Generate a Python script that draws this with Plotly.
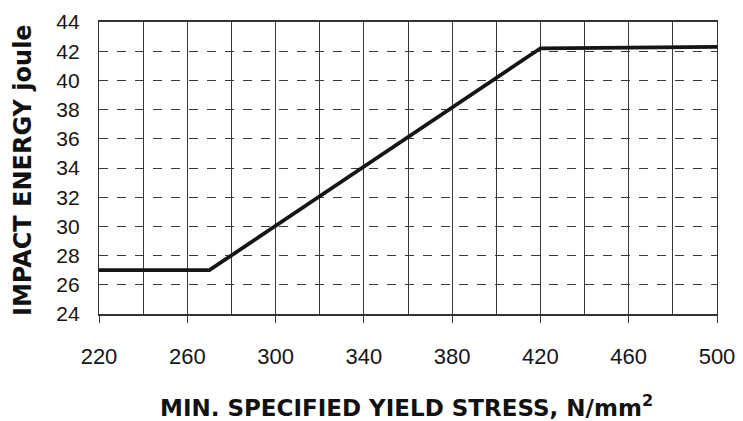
import plotly.graph_objects as go

# Data
yield_stress = [220, 270, 420, 500]
impact_energy = [27, 27, 42.2, 42.3]
x_ticks = [220, 260, 300, 340, 380, 420, 460, 500]
y_ticks = [24, 26, 28, 30, 32, 34, 36, 38, 40, 42, 44]

FONT = "Liberation Sans, Arial, sans-serif"
BOLD = "DejaVu Sans, Liberation Sans, Arial, sans-serif"

fig = go.Figure()
fig.add_trace(go.Scatter(
    x=yield_stress, y=impact_energy, mode="lines",
    line=dict(color="#151515", width=3.8), showlegend=False,
))

fig.update_layout(
    width=743, height=421,
    margin=dict(l=91, r=34, t=14, b=115),
    paper_bgcolor="white", plot_bgcolor="white",
    font=dict(family=FONT, color="#1a1a1a"),
    xaxis=dict(
        range=[220, 500], tickvals=x_ticks, ticktext=[str(v) for v in x_ticks],
        showgrid=True, gridcolor="#3a3a3a", gridwidth=1,
        minor=dict(dtick=20, tick0=220, showgrid=True, gridcolor="#3a3a3a", gridwidth=1, ticks=""),
        ticks="outside", ticklen=7, tickcolor="#3a3a3a", tickwidth=1,
        tickfont=dict(size=22, family=FONT, color="#151515"),
        ticklabelstandoff=15,
        showline=True, linecolor="#333333", linewidth=1.5, mirror=True,
        zeroline=False, fixedrange=True, automargin=False,
    ),
    yaxis=dict(
        range=[24, 44], tickvals=y_ticks, ticktext=[str(v) for v in y_ticks],
        showgrid=True, gridcolor="#3a3a3a", gridwidth=1, griddash="dash",
        ticks="", tickfont=dict(size=21, family=FONT, color="#151515"),
        ticklabelstandoff=14,
        showline=True, linecolor="#333333", linewidth=1.2, mirror=True,
        zeroline=False, fixedrange=True, automargin=False,
    ),
    annotations=[
        dict(text="<b>IMPACT ENERGY joule</b>", xref="paper", yref="paper",
             x=-0.123, y=0.493, xanchor="center", yanchor="middle", textangle=-90,
             showarrow=False, font=dict(size=24, family=BOLD, color="#111111")),
        dict(text="<b>MIN. SPECIFIED YIELD STRESS, N/mm<sup>2</sup></b>", xref="paper", yref="paper",
             x=0.498, y=-0.315, xanchor="center", yanchor="middle",
             showarrow=False, font=dict(size=23, family=BOLD, color="#111111")),
    ],
)

fig.write_html("out.html")
